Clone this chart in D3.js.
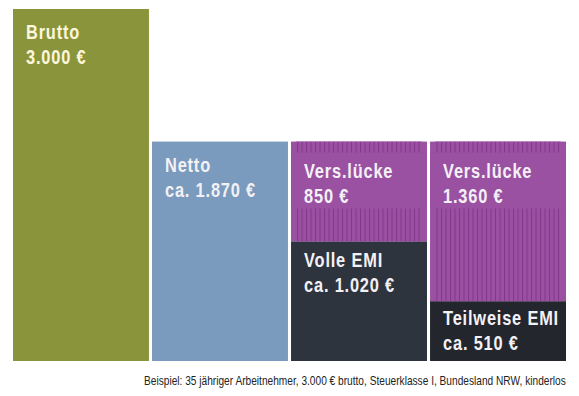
<!DOCTYPE html>
<html>
<head>
<meta charset="utf-8">
<script src="https://cdn.jsdelivr.net/npm/d3@7"></script>
<style>
  body { margin: 0; background: #fff; }
  svg { display: block; }
</style>
</head>
<body>
<svg id="chart" width="579" height="396"></svg>
<script>
const columns = ['brutto', 'netto', 'voll', 'teil'];
// stacked segments per column, bottom to top
const segColumn = ['brutto', 'netto', 'voll', 'voll', 'teil', 'teil'];
const segKind = ['brutto', 'netto', 'emi', 'gap', 'emi2', 'gap'];
const segValue = [3000, 1870, 1020, 850, 510, 1360];
const segTitle = ['Brutto', 'Netto', 'Volle EMI', 'Vers.lücke', 'Teilweise EMI', 'Vers.lücke'];
const segLabel = ['3.000 €', 'ca. 1.870 €', 'ca. 1.020 €', '850 €', 'ca. 510 €', '1.360 €'];
const note = 'Beispiel: 35 jähriger Arbeitnehmer, 3.000 € brutto, Steuerklasse I, Bundesland NRW, kinderlos';

const colors = {
  brutto: '#8a953b',
  netto: '#7a9bbd',
  emi: '#2e343e',
  emi2: '#23262d',
  gap: '#9a51a2'
};

const width = 579, height = 396;
const margin = { top: 9, right: 13, bottom: 35, left: 13 };
const font = '"Liberation Sans", Arial, sans-serif';
const narrow = 0.82; // fake a condensed face

const svg = d3.select('#chart');

const x = d3.scaleBand()
  .domain(columns)
  .range([margin.left, width - margin.right])
  .paddingInner(0.022);

const y = d3.scaleLinear()
  .domain([0, 3000])
  .range([height - margin.bottom, margin.top]);

// stripe pattern for the gap segments
const defs = svg.append('defs');
const pat = defs.append('pattern')
  .attr('id', 'stripes')
  .attr('patternUnits', 'userSpaceOnUse')
  .attr('width', 4.5)
  .attr('height', 10);
pat.append('rect').attr('width', 4.5).attr('height', 10).attr('fill', colors.gap);
pat.append('rect').attr('x', 0).attr('width', 1).attr('height', 10).attr('fill', '#83368b');

// compute stacks
const offsets = {};
const segs = segValue.map((v, i) => {
  const col = segColumn[i];
  const y0 = offsets[col] || 0;
  offsets[col] = y0 + v;
  return { col, kind: segKind[i], v, y0, y1: y0 + v, title: segTitle[i], label: segLabel[i] };
});

const g = svg.append('g');

segs.forEach(d => {
  const x0 = x(d.col), bw = x.bandwidth();
  const top = y(d.y1), bot = y(d.y0);
  g.append('rect')
    .attr('x', x0).attr('y', top)
    .attr('width', bw).attr('height', bot - top)
    .attr('fill', colors[d.kind]);

  let dy = Math.min(30, bot - top - 36);
  if (d.kind === 'gap') {
    g.append('rect')
      .attr('x', x0 + 5).attr('y', top)
      .attr('width', bw - 10).attr('height', bot - top)
      .attr('fill', 'url(#stripes)');
    // solid box behind the label
    g.append('rect')
      .attr('x', x0).attr('y', top + 11)
      .attr('width', bw).attr('height', 56)
      .attr('fill', colors.gap);
    dy = 36;
  }
  if (d.kind === 'emi') dy = 26;

  const t = g.append('text')
    .attr('transform', `translate(${x0 + 13},${top + dy}) scale(${narrow},1)`)
    .attr('fill', d.kind === 'brutto' ? '#fbf6dc' : '#f4f1f6')
    .attr('font-family', font)
    .attr('font-weight', 'bold')
    .attr('font-size', 20)
    .attr('letter-spacing', 1);
  t.append('tspan').attr('x', 0).text(d.title);
  t.append('tspan').attr('x', 0).attr('dy', 25).text(d.label);
});

const noteText = svg.append('text')
  .attr('font-family', font)
  .attr('font-size', 12)
  .attr('fill', '#222')
  .text(note);
const noteLen = noteText.node().getComputedTextLength();
const noteScale = Math.min(1, 422 / noteLen);
noteText.attr('transform', `translate(${width - margin.right - noteLen * noteScale},385) scale(${noteScale},1)`);
</script>
</body>
</html>
